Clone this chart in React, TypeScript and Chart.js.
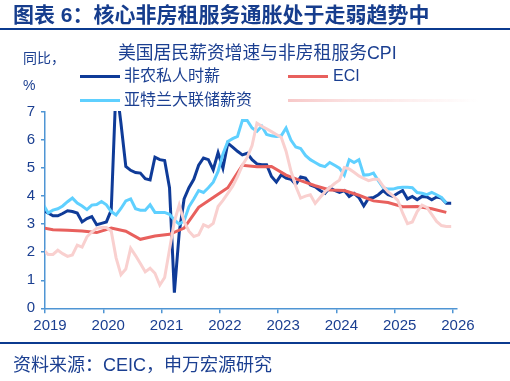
import React, { useEffect, useRef } from "react";
import { Chart, registerables } from "chart.js";

Chart.register(...registerables);

// ---- data (monthly from Jan 2019 unless noted) ----
const startYear = 2019;
const monthShift = -0.03; // months plotted slightly before tick (as in source chart)

const yearTicks = [2019, 2020, 2021, 2022, 2023, 2024, 2025, 2026];
const yTicks = [0, 1, 2, 3, 4, 5, 6, 7];

// 非农私人时薪 (Jan 2019 – Jan 2026)
const nonfarmWage = [
  3.5, 3.4, 3.3, 3.3, 3.38, 3.48, 3.45, 3.4, 3.08, 3.2, 3.27, 2.98,
  3.03, 3.08, 3.5, 8.0, 6.6, 5.06, 4.92, 4.84, 4.82, 4.62, 4.58, 5.39,
  5.3, 5.27, 4.3, 0.56, 2.7, 3.9, 4.3, 4.6, 5.1, 5.36, 5.3, 4.94,
  5.55, 5.0, 5.89, 5.75, 5.6, 5.47, 5.53, 5.3, 5.15, 5.12, 5.12, 4.7,
  4.5, 4.76, 4.64, 4.6, 4.42, 4.68, 4.64, 4.4, 4.33, 4.2, 4.1, 4.3,
  4.2, 4.13, 4.2, 3.99, 4.1, 3.95, 3.65, 3.93, 3.95, 4.05, 4.2, 4.05,
  3.99, 4.1, 4.2, 3.9, 3.99, 3.87, 3.99, 3.97, 3.87, 3.97, 3.93, 3.75,
  3.75,
];

// 亚特兰大联储薪资 (Jan 2019 – Dec 2025)
const atlantaWage = [
  3.7, 3.4, 3.5, 3.55, 3.65, 3.8, 3.93, 3.75, 3.65, 3.52, 3.68, 3.7,
  3.81, 3.69, 3.45, 3.33, 3.56, 3.83, 3.9, 3.55, 3.5, 3.5, 3.69, 3.42,
  3.42, 3.42, 3.35, 3.15, 3.0, 3.12, 3.62, 3.9, 4.2, 4.13, 4.3, 4.5,
  4.88, 5.5, 5.95, 6.05, 6.13, 6.7, 6.7, 6.43, 6.31, 6.49, 6.2, 6.15,
  6.13, 6.15, 6.43, 6.0, 5.75, 5.7, 5.45, 5.3, 5.2, 5.1, 5.05, 5.2,
  5.1, 5.0, 4.75, 5.3, 5.2, 5.3, 4.75, 4.76, 4.82, 4.55, 4.3, 4.25,
  4.25, 4.3, 4.32, 4.32, 4.3, 4.13, 4.1, 4.05, 4.13, 4.05, 3.95, 3.75,
];

// 非房租服务CPI (Jan 2019 – Jan 2026)
const serviceCpi = [
  2.1, 1.92, 1.92, 2.07, 1.95, 1.85, 1.9, 2.25, 2.18, 2.55, 2.72, 2.85,
  2.88, 2.88, 2.75, 1.8, 1.2, 1.4, 2.14, 1.88, 1.6, 1.3, 1.43, 1.25,
  0.83, 1.1, 2.1, 3.1, 3.68, 3.1, 2.75, 2.56, 2.62, 2.98, 2.9, 3.03,
  3.63, 3.85, 4.1, 4.35, 4.7, 5.1, 5.38, 5.8, 6.6, 6.49, 6.4, 6.3,
  6.2, 6.1, 5.6, 4.9, 4.35, 3.93, 4.0, 4.05, 3.74, 3.95, 4.15, 4.3,
  4.45, 4.57, 5.02, 4.97, 4.85, 4.72, 4.63, 4.55, 4.6, 4.6, 4.35, 4.15,
  4.02, 3.85, 3.4, 3.02, 3.08, 3.45, 3.68, 3.6, 3.35, 3.1, 2.95, 2.92,
  2.92,
];

// ECI quarterly (2018Q4 – 2025Q4), end-of-quarter months
const eciQuarterly = [
  2.9,
  2.8, 2.78, 2.76, 2.7,
  2.86, 2.75, 2.46, 2.58,
  2.64, 2.86, 3.6, 3.95,
  4.3, 5.1, 5.05, 5.06,
  4.75, 4.55, 4.37, 4.22,
  4.2, 4.03, 3.83, 3.77,
  3.62, 3.63, 3.55, 3.42,
];

const seriesLabels = ["非农私人时薪", "ECI", "亚特兰大联储薪资", ""];
const colors = {
  navy: "#0f3b98",
  red: "#e8605d",
  sky: "#5fd0ff",
  pink: "#f9d0cf",
  axis: "#4f95d4",
  text: "#1b3f91",
};

const toPoints = (vals: number[], firstMonth: number, step: number) =>
  vals.map((v, k) => ({
    x: startYear + (firstMonth + k * step) / 12 + monthShift,
    y: v,
  }));

const FONT = "'Liberation Sans', 'Noto Sans CJK SC', sans-serif";

export default function App() {
  const ref = useRef<HTMLCanvasElement | null>(null);

  useEffect(() => {
    document.body.style.margin = "0";
    if (!ref.current) return;
    const line = (label: string, data: any[], color: string) => ({
      label,
      data,
      borderColor: color,
      backgroundColor: color,
      borderWidth: 3,
      pointRadius: 0,
      tension: 0,
      fill: false,
      clip: { left: 0, top: 1, right: 10, bottom: 2 },
    });
    const chart = new Chart(ref.current, {
      type: "line",
      data: {
        datasets: [
          line(seriesLabels[3], toPoints(serviceCpi, 0, 1), colors.pink),
          line(seriesLabels[2], toPoints(atlantaWage, 0, 1), colors.sky),
          line(seriesLabels[1], toPoints(eciQuarterly, -1, 3), colors.red),
          line(seriesLabels[0], toPoints(nonfarmWage, 0, 1), colors.navy),
        ] as any,
      },
      options: {
        animation: false,
        responsive: false,
        maintainAspectRatio: false,
        layout: { padding: { top: 112, right: 53, bottom: 0, left: 0 } },
        plugins: { legend: { display: false }, tooltip: { enabled: false } },
        scales: {
          x: {
            type: "linear",
            min: 2019,
            max: 2026.07,
            afterBuildTicks: (s: any) => {
              s.ticks = yearTicks.map((v) => ({ value: v }));
            },
            afterFit: (s: any) => {
              s.height = 72.7;
            },
            ticks: {
              color: colors.text,
              font: { family: FONT, size: 15 },
              padding: 4,
              labelOffset: 5,
              maxRotation: 0,
              autoSkip: false,
              callback: (v: any) => String(v),
            },
            grid: {
              drawOnChartArea: false,
              drawTicks: true,
              tickLength: 5,
              color: colors.axis,
              lineWidth: 1.5,
            },
            border: { display: true, color: colors.axis, width: 1.5 },
          },
          y: {
            min: 0,
            max: 7,
            afterBuildTicks: (s: any) => {
              s.ticks = yTicks.map((v) => ({ value: v }));
            },
            afterFit: (s: any) => {
              s.width = 45;
            },
            ticks: {
              color: colors.text,
              font: { family: FONT, size: 15 },
              padding: 6,
            },
            grid: {
              drawOnChartArea: false,
              drawTicks: true,
              tickLength: 4,
              color: colors.axis,
              lineWidth: 1.5,
            },
            border: { display: true, color: colors.axis, width: 1.5 },
          },
        },
      } as any,
    });
    return () => chart.destroy();
  }, []);

  const abs = (extra: React.CSSProperties): React.CSSProperties => ({
    position: "absolute",
    fontFamily: FONT,
    color: colors.text,
    whiteSpace: "nowrap",
    ...extra,
  });

  return (
    <div style={{ position: "absolute", left: 0, top: 0, width: 510, height: 381, background: "#fff", overflow: "hidden" }}>
      <canvas ref={ref} width={510} height={381} style={{ position: "absolute", left: 0, top: 0, width: 510, height: 381 }} />
      <div style={abs({ left: 13, top: 4, fontSize: 21, lineHeight: "21px", fontWeight: 700, color: "#163d8d" })}>
        图表 6：核心非房租服务通胀处于走弱趋势中
      </div>
      <div style={{ position: "absolute", left: 0, top: 28, width: 510, height: 2, background: "#0b3a8f" }} />
      <div style={abs({ left: 118, top: 45, fontSize: 17.8, lineHeight: "17.8px" })}>
        美国居民薪资增速与非房租服务CPI
      </div>
      <div style={abs({ left: 23, top: 50.5, fontSize: 14, lineHeight: "14px" })}>同比，</div>
      <div style={abs({ left: 23, top: 77.5, fontSize: 14, lineHeight: "14px" })}>%</div>

      <div style={{ position: "absolute", left: 80, top: 74.5, width: 40, height: 3, background: colors.navy }} />
      <div style={abs({ left: 124, top: 68, fontSize: 16, lineHeight: "16px" })}>{seriesLabels[0]}</div>
      <div style={{ position: "absolute", left: 288, top: 74.5, width: 40, height: 3, background: colors.red }} />
      <div style={abs({ left: 333, top: 68, fontSize: 16, lineHeight: "16px" })}>{seriesLabels[1]}</div>
      <div style={{ position: "absolute", left: 80, top: 98.5, width: 40, height: 3, background: colors.sky }} />
      <div style={abs({ left: 124, top: 92, fontSize: 16, lineHeight: "16px" })}>{seriesLabels[2]}</div>
      <div
        style={{
          position: "absolute",
          left: 288,
          top: 98.5,
          width: 190,
          height: 3,
          background: "linear-gradient(to right, #f7c8c8 0%, #fbe0e0 30%, rgba(255,255,255,0) 100%)",
        }}
      />

      <div style={{ position: "absolute", left: 0, top: 342, width: 510, height: 2, background: "#0b3a8f" }} />
      <div style={abs({ left: 13, top: 356, fontSize: 18, lineHeight: "18px" })}>资料来源：CEIC，申万宏源研究</div>
    </div>
  );
}
